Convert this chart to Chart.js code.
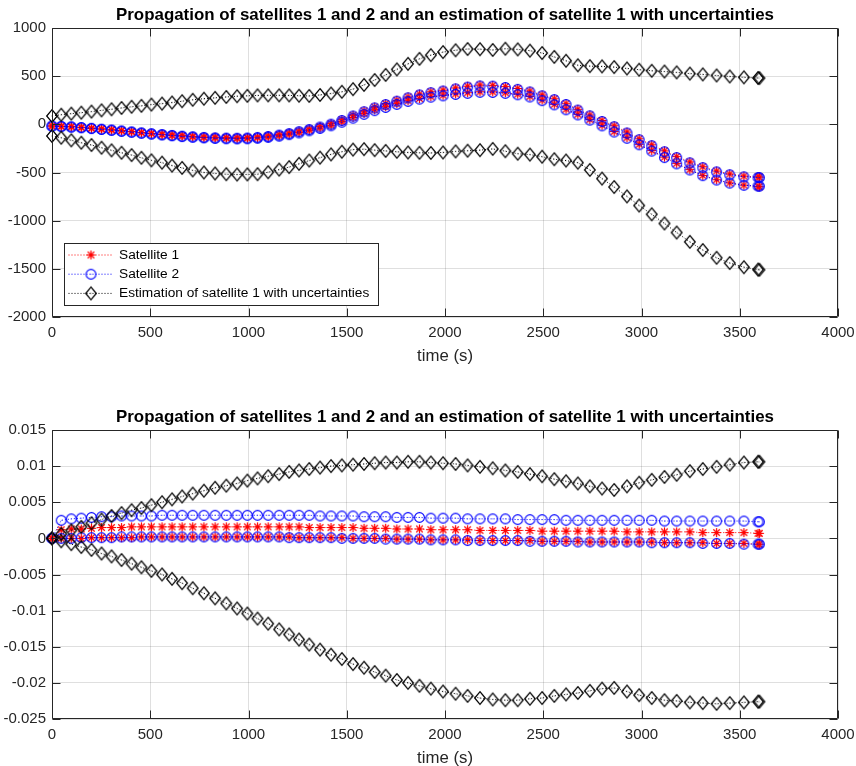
<!DOCTYPE html>
<html>
<head>
<meta charset="utf-8">
<script src="https://cdn.jsdelivr.net/npm/chart.js@4/dist/chart.umd.min.js"></script>
<style>
  html, body { margin: 0; padding: 0; background: #ffffff; }
  #figure { position: relative; width: 856px; height: 766px; background: #ffffff; overflow: hidden; }
  .panel { position: absolute; left: 0; width: 856px; height: 366px; }
</style>
</head>
<body>
<div id="figure">
  <div class="panel" style="top:0px"><canvas id="topPanel" width="856" height="366"></canvas></div>
  <div class="panel" style="top:402px"><canvas id="bottomPanel" width="856" height="366"></canvas></div>
</div>
<script>
// ---- data -------------------------------------------------------------
const timeS = [0, 47, 98, 149, 201, 252, 303, 354, 405, 455,
  506, 560, 611, 662, 716, 773, 830, 887, 942, 994,
  1046, 1100, 1156, 1207, 1257, 1309, 1364, 1420, 1475, 1532,
  1588, 1642, 1698, 1755, 1812, 1870, 1928, 1990, 2054, 2115,
  2178, 2243, 2307, 2370, 2432, 2494, 2556, 2616, 2676, 2737,
  2799, 2861, 2926, 2988, 3052, 3117, 3179, 3246, 3312, 3382,
  3449, 3521, 3593, 3600];

// upper panel
const topSat1a = [-15, -18, -23, -30, -38, -46, -55, -64, -74, -84,
  -93, -102, -110, -117, -124, -130, -134, -137, -138, -136,
  -130, -120, -106, -90, -71, -48, -23, 8, 48, 95,
  140, 180, 215, 250, 285, 315, 338, 355, 378, 396,
  408, 405, 392, 372, 345, 305, 265, 214, 156, 97,
  40, -15, -80, -150, -212, -275, -335, -390, -440, -485,
  -515, -537, -546, -547];
const topSat1b = [-19, -22, -27, -34, -42, -50, -59, -68, -78, -88,
  -97, -106, -114, -122, -129, -136, -141, -144, -146, -145,
  -140, -131, -118, -102, -84, -62, -38, -10, 28, 72,
  112, 150, 182, 214, 245, 268, 288, 302, 316, 328,
  338, 337, 328, 313, 290, 252, 208, 157, 104, 50,
  -10, -75, -138, -207, -272, -340, -405, -470, -530, -575,
  -608, -631, -646, -648];
const topSat2a = [-17, -21, -26, -33, -41, -50, -59, -69, -79, -89,
  -98, -107, -115, -123, -130, -136, -140, -143, -144, -142,
  -136, -126, -112, -96, -76, -54, -28, 2, 40, 86,
  130, 170, 205, 240, 275, 305, 328, 346, 368, 386,
  398, 396, 383, 363, 336, 296, 256, 206, 148, 88,
  30, -25, -90, -160, -222, -285, -345, -400, -450, -494,
  -524, -545, -552, -553];
const topSat2b = [-20, -24, -29, -36, -44, -53, -62, -72, -82, -92,
  -101, -110, -119, -127, -134, -141, -146, -150, -151, -150,
  -145, -136, -123, -107, -89, -67, -43, -15, 22, 64,
  104, 142, 175, 207, 238, 262, 282, 296, 310, 322,
  332, 331, 322, 307, 284, 246, 202, 151, 98, 44,
  -16, -80, -145, -212, -278, -345, -410, -474, -533, -578,
  -610, -633, -641, -642];
const topEstHigh = [87, 100, 111, 121, 132, 145, 156, 170, 182, 192,
  205, 215, 226, 240, 255, 266, 275, 284, 292, 296,
  300, 301, 301, 300, 297, 295, 305, 320, 338, 365,
  409, 460, 513, 570, 628, 680, 718, 750, 769, 782,
  780, 772, 785, 778, 765, 740, 700, 660, 613, 604,
  601, 594, 580, 567, 556, 548, 539, 527, 518, 507,
  497, 488, 481, 480];
const topEstLow = [-121, -139, -166, -191, -215, -243, -270, -295, -319, -347,
  -374, -398, -428, -452, -478, -500, -510, -518, -521, -520,
  -518, -497, -470, -444, -410, -376, -346, -312, -284, -262,
  -258, -268, -276, -285, -292, -295, -297, -292, -281, -274,
  -268, -255, -279, -305, -314, -336, -362, -376, -398, -473,
  -563, -651, -748, -843, -934, -1029, -1123, -1220, -1305, -1385,
  -1440, -1483, -1508, -1510];

// lower panel
const botSat1a = [0, 0.0012, 0.0013, 0.0013, 0.0014, 0.0015, 0.0015, 0.0015, 0.0016, 0.0016,
  0.0016, 0.0016, 0.0016, 0.0016, 0.0016, 0.0016, 0.0016, 0.0016, 0.0016, 0.0016,
  0.0016, 0.0016, 0.0016, 0.0016, 0.0016, 0.0015, 0.0015, 0.0015, 0.0015, 0.0015,
  0.0014, 0.0014, 0.0014, 0.0013, 0.0013, 0.0013, 0.0012, 0.0012, 0.0012, 0.0012,
  0.0011, 0.0011, 0.0011, 0.0011, 0.0011, 0.0010, 0.0010, 0.0010, 0.0010, 0.0010,
  0.0010, 0.0010, 0.0009, 0.0009, 0.0009, 0.0009, 0.0009, 0.0009, 0.0008, 0.0008,
  0.0008, 0.0008, 0.0007, 0.0007];
const botSat1b = [0, 0, 0, 0, 0.0001, 0.0001, 0.0001, 0.0001, 0.0001, 0.0002,
  0.0002, 0.0002, 0.0002, 0.0002, 0.0002, 0.0002, 0.0002, 0.0002, 0.0002, 0.0002,
  0.0002, 0.0002, 0.0002, 0.0002, 0.0001, 0.0001, 0.0001, 0.0001, 0.0001, 0,
  0, 0, 0, -0.0001, -0.0001, -0.0001, -0.0002, -0.0002, -0.0002, -0.0002,
  -0.0003, -0.0003, -0.0003, -0.0003, -0.0003, -0.0004, -0.0004, -0.0004, -0.0004, -0.0005,
  -0.0005, -0.0005, -0.0005, -0.0005, -0.0005, -0.0006, -0.0006, -0.0006, -0.0006, -0.0007,
  -0.0007, -0.0007, -0.0008, -0.0008];
const botSat2a = [0, 0.0025, 0.0027, 0.0028, 0.0029, 0.0030, 0.0030, 0.0031, 0.0031, 0.0031,
  0.0031, 0.0032, 0.0032, 0.0032, 0.0032, 0.0032, 0.0032, 0.0032, 0.0032, 0.0032,
  0.0032, 0.0032, 0.0032, 0.0032, 0.0032, 0.0032, 0.0031, 0.0031, 0.0031, 0.0031,
  0.0030, 0.0030, 0.0030, 0.0029, 0.0029, 0.0029, 0.0028, 0.0028, 0.0028, 0.0027,
  0.0027, 0.0027, 0.0027, 0.0026, 0.0026, 0.0026, 0.0026, 0.0025, 0.0025, 0.0025,
  0.0025, 0.0025, 0.0025, 0.0025, 0.0025, 0.0024, 0.0024, 0.0024, 0.0024, 0.0024,
  0.0024, 0.0024, 0.0023, 0.0023];
const botSat2b = [0, 0, 0, 0.0001, 0.0001, 0.0001, 0.0001, 0.0002, 0.0002, 0.0002,
  0.0002, 0.0002, 0.0002, 0.0002, 0.0002, 0.0002, 0.0002, 0.0002, 0.0002, 0.0002,
  0.0002, 0.0002, 0.0002, 0.0001, 0.0001, 0.0001, 0.0001, 0.0001, 0, 0,
  0, 0, -0.0001, -0.0001, -0.0001, -0.0001, -0.0002, -0.0002, -0.0002, -0.0003,
  -0.0003, -0.0003, -0.0003, -0.0003, -0.0004, -0.0004, -0.0004, -0.0004, -0.0005, -0.0005,
  -0.0005, -0.0005, -0.0005, -0.0005, -0.0006, -0.0006, -0.0006, -0.0006, -0.0007, -0.0007,
  -0.0007, -0.0008, -0.0008, -0.0008];
const botEstHigh = [0, 0.0006, 0.0011, 0.0016, 0.0021, 0.0026, 0.0031, 0.0035, 0.0039, 0.0042,
  0.0046, 0.0050, 0.0054, 0.0058, 0.0062, 0.0066, 0.0070, 0.0073, 0.0076, 0.0080,
  0.0083, 0.0086, 0.0089, 0.0092, 0.0094, 0.0096, 0.0098, 0.0100, 0.0101, 0.0102,
  0.0103, 0.0104, 0.0105, 0.0105, 0.0106, 0.0106, 0.0105, 0.0104, 0.0103, 0.0101,
  0.0099, 0.0097, 0.0094, 0.0092, 0.0089, 0.0086, 0.0082, 0.0079, 0.0076, 0.0072,
  0.0069, 0.0067, 0.0072, 0.0077, 0.0081, 0.0085, 0.0088, 0.0093, 0.0096, 0.0099,
  0.0102, 0.0105, 0.0106, 0.0106];
const botEstLow = [0, -0.0004, -0.0008, -0.0012, -0.0016, -0.0021, -0.0025, -0.0030, -0.0035, -0.0040,
  -0.0045, -0.0050, -0.0056, -0.0062, -0.0069, -0.0076, -0.0083, -0.0090, -0.0097, -0.0104,
  -0.0111, -0.0118, -0.0126, -0.0133, -0.0140, -0.0147, -0.0154, -0.0161, -0.0167, -0.0174,
  -0.0179, -0.0185, -0.0190, -0.0196, -0.0200, -0.0204, -0.0208, -0.0212, -0.0215, -0.0218,
  -0.0221, -0.0223, -0.0224, -0.0224, -0.0222, -0.0221, -0.0218, -0.0216, -0.0214, -0.0211,
  -0.0208, -0.0207, -0.0212, -0.0217, -0.0221, -0.0224, -0.0225, -0.0227, -0.0228, -0.0229,
  -0.0228, -0.0227, -0.0226, -0.0226];

// axes ticks and texts
const xTicks = [0, 500, 1000, 1500, 2000, 2500, 3000, 3500, 4000];
const topYTicks = [-2000, -1500, -1000, -500, 0, 500, 1000];
const botYTicks = [-0.025, -0.02, -0.015, -0.01, -0.005, 0, 0.005, 0.01, 0.015];
const chartTitle = 'Propagation of satellites 1 and 2 and an estimation of satellite 1 with uncertainties';
const xAxisLabel = 'time (s)';
const legendLabels = ['Satellite 1', 'Satellite 2', 'Estimation of satellite 1 with uncertainties'];

// ---- styling ---------------------------------------------------------
const AXIS_COLOR = '#262626';
const GRID_COLOR = 'rgba(38,38,38,0.15)';
const FONT_FAMILY = "'Liberation Sans', Arial, Helvetica, sans-serif";
const TICK_SIZE = 15;
const LABEL_SIZE = 16.8;
const TITLE_SIZE = 16.9;
const LEGEND_SIZE = 13.7;
Chart.defaults.font.family = FONT_FAMILY;
Chart.defaults.font.size = TICK_SIZE;
Chart.defaults.color = AXIS_COLOR;

// marker glyphs (asterisk, open circle, open diamond)
function makeMarker(kind) {
  const c = document.createElement('canvas');
  const g = c.getContext('2d');
  if (kind === 'diamond') {
    c.width = 14; c.height = 16;
    g.strokeStyle = '#000000';
    g.lineWidth = 1.3;
    g.beginPath();
    g.moveTo(7, 1.7); g.lineTo(12.3, 8); g.lineTo(7, 14.3); g.lineTo(1.7, 8);
    g.closePath();
    g.stroke();
    g.fillStyle = 'rgba(0,0,0,0.55)';
    g.fillRect(6.5, 7.5, 1, 1);
  } else if (kind === 'circle') {
    c.width = 13; c.height = 13;
    g.strokeStyle = '#0000ff';
    g.lineWidth = 1.1;
    g.beginPath();
    g.arc(6.5, 6.5, 4.9, 0, Math.PI * 2);
    g.stroke();
    g.fillStyle = 'rgba(0,0,255,0.55)';
    g.fillRect(6, 6, 1, 1);
  } else {
    c.width = 13; c.height = 13;
    g.strokeStyle = '#ff0000';
    g.lineWidth = 1.2;
    const r = 4.6;
    g.beginPath();
    for (let k = 0; k < 4; k++) {
      const a = k * Math.PI / 4;
      g.moveTo(6.5 - r * Math.cos(a), 6.5 - r * Math.sin(a));
      g.lineTo(6.5 + r * Math.cos(a), 6.5 + r * Math.sin(a));
    }
    g.stroke();
  }
  return c;
}
const MARKERS = {
  sat1: { color: '#ff0000', img: makeMarker('star') },
  sat2: { color: '#0000ff', img: makeMarker('circle') },
  est:  { color: '#000000', img: makeMarker('diamond') }
};
const DOT_DASH = [1, 2];

function fmt(v) {
  return String(parseFloat(Number(v).toFixed(6)));
}

function series(values, style) {
  return {
    data: timeS.map((t, i) => ({ x: t, y: values[i] })),
    borderColor: style.color,
    borderWidth: 1,
    borderDash: DOT_DASH,
    pointStyle: style.img,
    pointRadius: 5,
    pointHoverRadius: 5,
    fill: false,
    tension: 0,
    clip: false
  };
}

// bold title centred over the axes
const axesTitle = {
  id: 'axesTitle',
  afterDraw(chart) {
    const { ctx, chartArea: a } = chart;
    ctx.save();
    ctx.fillStyle = '#000000';
    ctx.font = 'bold ' + TITLE_SIZE + 'px ' + FONT_FAMILY;
    ctx.textAlign = 'center';
    ctx.textBaseline = 'middle';
    ctx.fillText(chartTitle, (a.left + a.right) / 2, a.top - 13);
    ctx.restore();
  }
};

// axes box with inward ticks on all four sides
const boxPlugin = {
  id: 'axesBox',
  afterDraw(chart) {
    const { ctx, chartArea: a, scales } = chart;
    const L = Math.round(a.left) + 0.5, R = Math.round(a.right) - 0.5;
    const T = Math.round(a.top) + 0.5, B = Math.round(a.bottom) - 0.5;
    const tick = 8;
    ctx.save();
    ctx.strokeStyle = AXIS_COLOR;
    ctx.lineWidth = 1;
    ctx.beginPath();
    ctx.rect(L, T, R - L, B - T);
    scales.x.ticks.forEach(tk => {
      const px = Math.round(scales.x.getPixelForValue(tk.value)) + 0.5;
      ctx.moveTo(px, B); ctx.lineTo(px, B - tick);
      ctx.moveTo(px, T); ctx.lineTo(px, T + tick);
    });
    scales.y.ticks.forEach(tk => {
      const py = Math.round(scales.y.getPixelForValue(tk.value)) + 0.5;
      ctx.moveTo(L, py); ctx.lineTo(L + tick, py);
      ctx.moveTo(R, py); ctx.lineTo(R - tick, py);
    });
    ctx.stroke();
    ctx.restore();
  }
};

// legend box inside the lower-left corner of the upper axes
const insetLegend = {
  id: 'insetLegend',
  afterDraw(chart) {
    const { ctx, chartArea: a } = chart;
    const left = Math.round(a.left) + 12.5;
    const top = Math.round(a.top) + 215.5;
    const w = 314, h = 62;
    const rows = [
      { label: legendLabels[0], style: MARKERS.sat1 },
      { label: legendLabels[1], style: MARKERS.sat2 },
      { label: legendLabels[2], style: MARKERS.est }
    ];
    ctx.save();
    ctx.fillStyle = '#ffffff';
    ctx.fillRect(left, top, w, h);
    ctx.strokeStyle = AXIS_COLOR;
    ctx.lineWidth = 1;
    ctx.strokeRect(left, top, w, h);
    rows.forEach((row, i) => {
      const y = top + 11.5 + i * 19.2;
      ctx.strokeStyle = row.style.color;
      ctx.lineWidth = 1;
      ctx.setLineDash(DOT_DASH);
      ctx.beginPath();
      ctx.moveTo(left + 4, y); ctx.lineTo(left + 47, y);
      ctx.stroke();
      ctx.setLineDash([]);
      const img = row.style.img;
      ctx.drawImage(img, left + 26.5 - img.width / 2, y - img.height / 2);
      ctx.fillStyle = '#000000';
      ctx.font = LEGEND_SIZE + 'px ' + FONT_FAMILY;
      ctx.textAlign = 'left';
      ctx.textBaseline = 'middle';
      ctx.fillText(row.label, left + 54.5, y);
    });
    ctx.restore();
  }
};

function makeOptions(yTicks) {
  return {
    responsive: false,
    animation: false,
    devicePixelRatio: 1,
    layout: { padding: { left: 0, right: 18, top: 28, bottom: 0 } },
    plugins: {
      legend: { display: false },
      tooltip: { enabled: false },
      title: { display: false }
    },
    scales: {
      x: {
        type: 'linear',
        min: xTicks[0],
        max: xTicks[xTicks.length - 1],
        afterBuildTicks: s => { s.ticks = xTicks.map(v => ({ value: v })); },
        afterFit: s => { s.height = 49; s.paddingLeft = 0; s.paddingRight = 0; },
        grid: { color: GRID_COLOR, drawTicks: false, lineWidth: 1 },
        border: { display: false },
        ticks: { padding: 7, color: AXIS_COLOR, maxRotation: 0, autoSkip: false, callback: v => fmt(v) },
        title: { display: true, text: xAxisLabel, color: AXIS_COLOR, font: { size: LABEL_SIZE }, padding: { top: 0, bottom: 0 } }
      },
      y: {
        type: 'linear',
        min: yTicks[0],
        max: yTicks[yTicks.length - 1],
        afterBuildTicks: s => { s.ticks = yTicks.map(v => ({ value: v })); },
        afterFit: s => { s.width = 52; s.paddingTop = 0; s.paddingBottom = 0; },
        grid: { color: GRID_COLOR, drawTicks: false, lineWidth: 1 },
        border: { display: false },
        ticks: { padding: 6, color: AXIS_COLOR, autoSkip: false, callback: v => fmt(v) }
      }
    }
  };
}

function panelDatasets(s1a, s1b, s2a, s2b, eHigh, eLow) {
  // first entries are drawn last, so the estimation bounds sit on top
  return [
    series(eHigh, MARKERS.est),
    series(eLow, MARKERS.est),
    series(s2a, MARKERS.sat2),
    series(s2b, MARKERS.sat2),
    series(s1a, MARKERS.sat1),
    series(s1b, MARKERS.sat1)
  ];
}

new Chart(document.getElementById('topPanel'), {
  type: 'line',
  data: { datasets: panelDatasets(topSat1a, topSat1b, topSat2a, topSat2b, topEstHigh, topEstLow) },
  options: makeOptions(topYTicks),
  plugins: [boxPlugin, axesTitle, insetLegend]
});

new Chart(document.getElementById('bottomPanel'), {
  type: 'line',
  data: { datasets: panelDatasets(botSat1a, botSat1b, botSat2a, botSat2b, botEstHigh, botEstLow) },
  options: makeOptions(botYTicks),
  plugins: [boxPlugin, axesTitle]
});
</script>
</body>
</html>
